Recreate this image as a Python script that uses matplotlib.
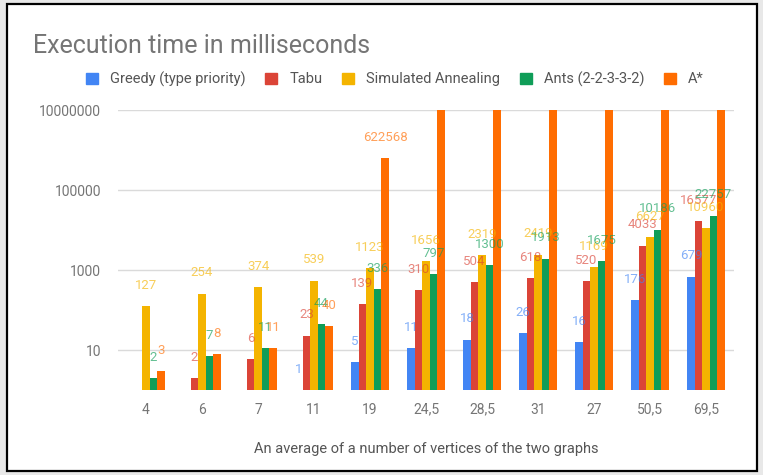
import numpy as np
import matplotlib
matplotlib.use("Agg")
import matplotlib.pyplot as plt
import matplotlib.patches as mpatches

plt.rcParams['font.family'] = ['Roboto', 'DejaVu Sans']

categories = ["4", "6", "7", "11", "19", "24,5", "28,5", "31", "27", "50,5", "69,5"]
series = ["Greedy (type priority)", "Tabu", "Simulated Annealing", "Ants (2-2-3-3-2)", "A*"]
colors = ["#4285F4", "#DB4437", "#F4B400", "#0F9D58", "#FF6D01"]

# nan = no bar in the picture; A* values above 1e7 are cut off at the top of the chart
greedy = [np.nan, np.nan, np.nan, 1, 5, 11, 18, 26, 16, 176, 679]
tabu = [np.nan, 2, 6, 23, 139, 310, 504, 618, 520, 4033, 16577]
annealing = [127, 254, 374, 539, 1123, 1656, 2319, 2419, 1169, 6627, 10960]
ants = [2, 7, 11, 44, 336, 797, 1300, 1913, 1675, 10186, 22757]
astar = [3, 8, 11, 40, 622568, 3e7, 3e7, 3e7, 3e7, 3e7, 3e7]

data = [greedy, tabu, annealing, ants, astar]
ymax = 1e7

W, H = 763, 475
fig = plt.figure(figsize=(W / 100, H / 100), dpi=100)
fig.patch.set_facecolor("#e8e8e8")
# white card with a black frame
fig.patches.append(mpatches.Rectangle((7 / W, 4 / H), (757 - 7) / W, (471 - 4) / H,
                                      transform=fig.transFigure, facecolor="white",
                                      edgecolor="black", linewidth=1.6, zorder=-5))

ax = fig.add_axes([118 / W, 1 - 390 / H, (734 - 118) / W, (390 - 110) / H])
ax.set_zorder(2)
ax.set_facecolor("none")
ax.set_yscale("log")
ax.set_ylim(1, ymax)
ax.set_xlim(-0.5, len(categories) - 0.5)

x = np.arange(len(categories))
bw = 0.135
for i, (vals, c) in enumerate(zip(data, colors)):
    xs = x + (i - 2) * bw
    v = np.array(vals, dtype=float)
    ax.bar(xs, np.minimum(v, ymax * 1.5) - 1, width=bw, color=c, bottom=1, zorder=3)
    for xx, val in zip(xs, v):
        if np.isnan(val) or val > ymax:
            continue
        ax.annotate(f"{val:g}", (xx, val), xytext=(0, 15), textcoords="offset points",
                    ha="center", va="center", fontsize=9.5, color=c, alpha=0.65, zorder=4)

ax.set_yticks([10, 1000, 100000, 10000000])
ax.set_yticklabels(["10", "1000", "100000", "10000000"])
ax.minorticks_off()
ax.set_xticks(x)
ax.set_xticklabels(categories)
ax.tick_params(axis="both", length=0, labelsize=10, colors="#757575")
ax.tick_params(axis="y", pad=12)
ax.tick_params(axis="x", pad=9)
ax.grid(axis="y", color="#dadada", linewidth=1, zorder=0)
for s in ax.spines.values():
    s.set_visible(False)

ax.set_xlabel("An average of a number of vertices of the two graphs", fontsize=10.5,
              color="#555555", labelpad=18)

fig.text(33 / W, 1 - 46 / H, "Execution time in milliseconds", fontsize=18,
         color="#757575", va="center", ha="left")

handles = [mpatches.Patch(color=c, label=s) for s, c in zip(series, colors)]
fig.legend(handles=handles, loc="center left", bbox_to_anchor=(86 / W, 1 - 79 / H),
           ncol=5, frameon=False, fontsize=10.5, handlelength=0.8, handleheight=0.8,
           handletextpad=0.85, columnspacing=1.35, borderpad=0, borderaxespad=0,
           labelcolor="#555555")

fig.savefig("out.png", dpi=100, facecolor=fig.get_facecolor())
